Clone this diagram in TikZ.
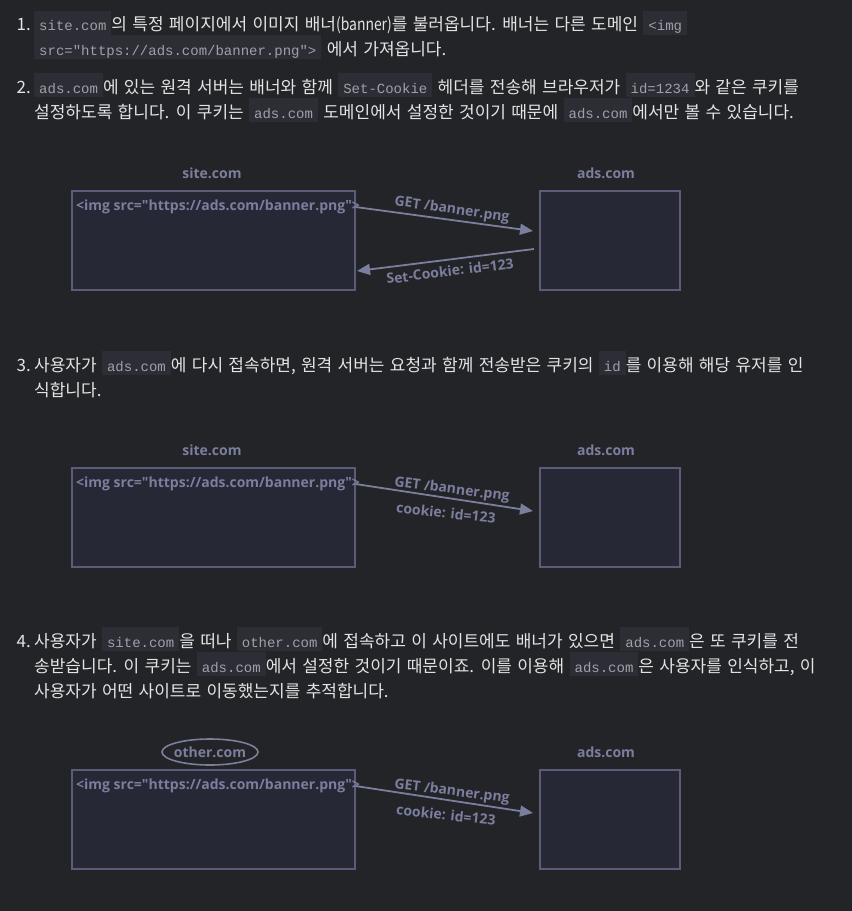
\documentclass[tikz,border=0pt]{standalone}
\usepackage{graphicx}
\usepackage{fontspec}
\setmainfont{Noto Sans CJK KR}[WordSpace=1.4]
\newfontfamily\codefont{Liberation Mono}
\newfontfamily\diagfont{Open Sans}
\usetikzlibrary{arrows.meta,shapes.geometric}
\definecolor{bg}{HTML}{232428}
\definecolor{bodyfg}{HTML}{E4E4E4}
\definecolor{codebg}{HTML}{2D2E35}
\definecolor{codefg}{HTML}{A0A0A8}
\definecolor{dfg}{HTML}{7B7E9D}
\definecolor{boxline}{HTML}{5B5D78}
\definecolor{boxfill}{HTML}{272835}
\newcommand\code[1]{{\setlength{\fboxsep}{0pt}\colorbox{codebg}{\hspace{5pt}\rule[-4pt]{0pt}{24pt}\codefont\fontsize{14}{14}\selectfont\color{codefg}#1\hspace{5pt}}}}
\newcommand\narrowlatin[1]{\scalebox{0.82}[1]{#1}}
\tikzset{
  body/.style={anchor=base west, inner sep=0pt, text=bodyfg, font=\fontsize{17}{25}\selectfont},
  num/.style={body, anchor=base east},
  dtext/.style={inner sep=0pt, text=dfg, font=\diagfont\bfseries\fontsize{14}{16}\selectfont},
  sitebox/.style={draw=boxline, fill=boxfill, line width=1.5pt, minimum width=283pt, minimum height=99pt, inner sep=0pt, anchor=north west},
  adsbox/.style={sitebox, minimum width=140pt},
  arr/.style={draw=dfg, line width=1.8pt, -{Triangle[length=13pt,width=11pt]}},
  oval/.style={draw=dfg, line width=1.6pt, ellipse, minimum width=96pt, minimum height=26pt, inner sep=0pt},
}
\begin{document}
\begin{tikzpicture}[x=1pt,y=-1pt]
\fill[bg] (0,0) rectangle (852,911);
\useasboundingbox (0,0) rectangle (852,911);

% ---- item 1
\node[num] (n1) at (31,30.5) {1.};
\node[body] (t1a) at (34,30.5) {\code{site.com}의 특정 페이지에서 이미지 배너\narrowlatin{(banner)}를 불러옵니다. 배너는 다른 도메인 \code{<img}};
\node[body] (t1b) at (34,55) {\code{src="https://ads.com/banner.png">} 에서 가져옵니다.};
% ---- item 2
\node[num] (n2) at (31,93) {2.};
\node[body] (t2a) at (34,93) {\code{ads.com}에 있는 원격 서버는 배너와 함께 \code{Set-Cookie} 헤더를 전송해 브라우저가 \code{id=1234}와 같은 쿠키를};
\node[body] (t2b) at (34,118) {설정하도록 합니다. 이 쿠키는 \code{ads.com} 도메인에서 설정한 것이기 때문에 \code{ads.com}에서만 볼 수 있습니다.};

% ---- diagram 1
\node[dtext] (lsite1) at (212,173) {site.com};
\node[dtext] (lads1) at (606,173) {ads.com};
\node[sitebox] (site1) at (71,190) {};
\node[adsbox] (ads1) at (539,190) {};
\node[dtext, anchor=west] (img1) at (76,207) {<img src="https://ads.com/banner.png">};
\coordinate (a1e) at (533,231);
\coordinate (b1s) at (534,249);
\coordinate (b1e) at (357,271);
\draw[arr] (site1.east |- img1) -- (a1e);
\draw[arr] (b1s) -- (b1e);
\node[dtext, rotate=-8] (g1) at (452,210) {GET /banner.png};
\node[dtext, rotate=7] (c1) at (450,271) {Set-Cookie: id=123};

% ---- item 3
\node[num] (n3) at (31,371) {3.};
\node[body] (t3a) at (34,371) {사용자가 \code{ads.com}에 다시 접속하면, 원격 서버는 요청과 함께 전송받은 쿠키의 \code{id}를 이용해 해당 유저를 인};
\node[body] (t3b) at (34,396) {식합니다.};

% ---- diagram 2
\node[dtext] (lsite2) at (212,450) {site.com};
\node[dtext] (lads2) at (606,450) {ads.com};
\node[sitebox] (site2) at (71,467) {};
\node[adsbox] (ads2) at (539,467) {};
\node[dtext, anchor=west] (img2) at (76,484) {<img src="https://ads.com/banner.png">};
\coordinate (a2e) at (533,511);
\draw[arr] (site2.east |- img2) -- (a2e);
\node[dtext, rotate=-7] (g2) at (452,490) {GET /banner.png};
\node[dtext, rotate=-6] (c2) at (446,513) {cookie: id=123};

% ---- item 4
\node[num] (n4) at (31,647) {4.};
\node[body] (t4a) at (34,647) {사용자가 \code{site.com}을 떠나 \code{other.com}에 접속하고 이 사이트에도 배너가 있으면 \code{ads.com}은 또 쿠키를 전};
\node[body] (t4b) at (34,672) {송받습니다. 이 쿠키는 \code{ads.com}에서 설정한 것이기 때문이죠. 이를 이용해 \code{ads.com}은 사용자를 인식하고, 이};
\node[body] (t4c) at (34,697) {사용자가 어떤 사이트로 이동했는지를 추적합니다.};

% ---- diagram 3
\node[dtext] (lother3) at (210,752) {other.com};
\node[oval] (oval3) at (lother3) {};
\node[dtext] (lads3) at (606,752) {ads.com};
\node[sitebox] (site3) at (71,769) {};
\node[adsbox] (ads3) at (539,769) {};
\node[dtext, anchor=west] (img3) at (76,786) {<img src="https://ads.com/banner.png">};
\coordinate (a3e) at (533,813);
\draw[arr] (site3.east |- img3) -- (a3e);
\node[dtext, rotate=-7] (g3) at (452,792) {GET /banner.png};
\node[dtext, rotate=-6] (c3) at (446,815) {cookie: id=123};
\end{tikzpicture}
\end{document}
